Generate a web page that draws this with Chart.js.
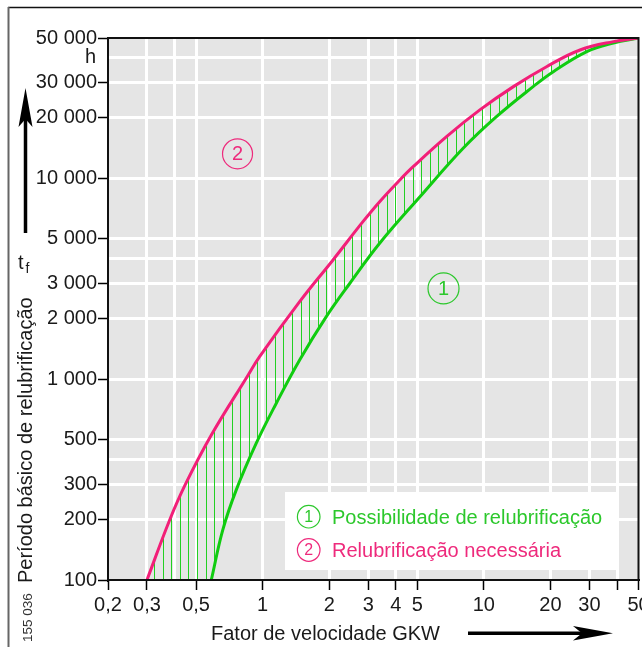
<!DOCTYPE html>
<html lang="pt">
<head>
<meta charset="utf-8">
<title>Período básico de relubrificação</title>
<script src="https://cdn.jsdelivr.net/npm/chart.js@4.4.1/dist/chart.umd.min.js"></script>
<style>
    html, body { margin: 0; padding: 0; background: #fff; }
    canvas { display: block; }
</style>
</head>
<body>
<canvas id="chart" width="642" height="647"></canvas>
<script>
// Curve 2 - relubrication required (magenta)
const magentaX = [0.3, 0.38, 0.448, 0.588, 0.844, 0.969, 1.47, 2.08, 2.84, 3.38, 4.17, 4.79, 6.78, 9.59, 13.6, 19.2, 27.2, 38.5, 50];
const magentaY = [100, 199, 300, 530, 1014, 1294, 2432, 3924, 6086, 7656, 9818, 11430, 16140, 21920, 28630, 35980, 43580, 47970, 50000];

// Curve 1 - relubrication possible (green)
const greenX = [0.586, 0.661, 0.76, 0.936, 1.153, 1.47, 1.94, 2.48, 3.38, 5.13, 8.06, 11.4, 16.7, 20.6, 29.2, 38.5, 50];
const greenY = [100, 178, 281, 480, 759, 1246, 2048, 3004, 4750, 8077, 14120, 20290, 28630, 33980, 42770, 47230, 50000];

// Axis ticks
const xTicks = [0.2, 0.3, 0.4, 0.5, 1, 2, 3, 4, 5, 10, 20, 30, 40, 50];
const xTickLabels = ['0,2', '0,3', '', '0,5', '1', '2', '3', '4', '5', '10', '20', '30', '', '50'];
const xNoMark = [0.4];
const yTicks = [100, 200, 300, 400, 500, 1000, 2000, 3000, 4000, 5000, 10000, 20000, 30000, 40000, 50000];
const yTickLabels = ['100', '200', '300', '', '500', '1 000', '2 000', '3 000', '', '5 000', '10 000', '20 000', '30 000', '', '50 000'];
const yNoMark = [400, 4000, 40000];

// Texts
const legendLabels = ['Possibilidade de relubrificação', 'Relubrificação necessária'];
const xTitle = 'Fator de velocidade GKW';
const yTitle = 'Período básico de relubrificação';
const yUnit = 'h';
const figureId = '155 036';

const FONT = '"Liberation Sans", Arial, sans-serif';
const MAGENTA = '#f21f78';
const GREEN = '#10cc10';
const HATCH = '#22d022';
const GREEN_TEXT = '#2cc82c';
const MAGENTA_TEXT = '#ee2a7c';

function circled(ctx, x, y, r, text, color, size) {
    ctx.beginPath();
    ctx.arc(x, y, r, 0, Math.PI * 2);
    ctx.strokeStyle = color;
    ctx.lineWidth = 1.2;
    ctx.stroke();
    ctx.fillStyle = color;
    ctx.font = size + 'px ' + FONT;
    ctx.textAlign = 'center';
    ctx.textBaseline = 'middle';
    ctx.fillText(text, x, y + 1);
}

const decor = {
    id: 'decor',
    beforeDraw(chart) {
        const { ctx, chartArea: a } = chart;
        ctx.save();
        ctx.fillStyle = '#e5e5e5';
        ctx.fillRect(a.left, a.top, a.right - a.left, a.bottom - a.top);
        ctx.restore();
    },
    beforeDatasetsDraw(chart) {
        // vertical hatching between the two curves
        const { ctx, chartArea: a } = chart;
        const upper = chart.getDatasetMeta(0).dataset;
        const lower = chart.getDatasetMeta(1).dataset;
        ctx.save();
        ctx.beginPath();
        ctx.rect(a.left, a.top, a.right - a.left, a.bottom - a.top);
        ctx.clip();
        ctx.beginPath();
        upper.pathSegment(ctx, upper.segments[0], { move: true });
        lower.pathSegment(ctx, lower.segments[0], { move: false, reverse: true });
        ctx.closePath();
        ctx.clip();
        ctx.strokeStyle = HATCH;
        ctx.lineWidth = 1;
        ctx.beginPath();
        for (let x = a.left + 46; x < a.right; x += 8.62) {
            const px = Math.round(x) + 0.5;
            ctx.moveTo(px, a.top);
            ctx.lineTo(px, a.bottom);
        }
        ctx.stroke();
        ctx.restore();
    },
    afterDatasetsDraw(chart) {
        const { ctx, chartArea: a, scales } = chart;
        ctx.save();
        // plot frame
        ctx.strokeStyle = '#111';
        ctx.lineWidth = 2;
        ctx.strokeRect(a.left, a.top, a.right - a.left, a.bottom - a.top);

        // region markers
        circled(ctx, scales.x.getPixelForValue(0.77), scales.y.getPixelForValue(13250), 15, '2', MAGENTA_TEXT, 20);
        circled(ctx, scales.x.getPixelForValue(6.57), scales.y.getPixelForValue(2830), 15.5, '1', GREEN_TEXT, 20);

        // legend box
        ctx.fillStyle = '#fff';
        ctx.fillRect(285, 492, 331, 78);
        circled(ctx, 308.7, 516.7, 11.3, '1', GREEN_TEXT, 16);
        circled(ctx, 308.7, 550, 11.3, '2', MAGENTA_TEXT, 16);
        ctx.font = '20px ' + FONT;
        ctx.textAlign = 'left';
        ctx.textBaseline = 'alphabetic';
        ctx.fillStyle = GREEN_TEXT;
        ctx.fillText(legendLabels[0], 332, 523.5);
        ctx.fillStyle = MAGENTA_TEXT;
        ctx.fillText(legendLabels[1], 332, 556.7);
        ctx.restore();
    },
    afterDraw(chart) {
        const ctx = chart.ctx;
        ctx.save();
        ctx.fillStyle = '#1a1a1a';
        ctx.strokeStyle = '#111';

        // outer figure frame
        ctx.lineWidth = 1.5;
        ctx.beginPath();
        ctx.moveTo(8, 7.5);
        ctx.lineTo(642, 7.5);
        ctx.stroke();
        ctx.strokeStyle = '#666';
        ctx.lineWidth = 2;
        ctx.beginPath();
        ctx.moveTo(8.5, 7);
        ctx.lineTo(8.5, 647);
        ctx.stroke();

        // unit
        ctx.font = '20px ' + FONT;
        ctx.textAlign = 'right';
        ctx.textBaseline = 'alphabetic';
        ctx.fillText(yUnit, 96, 63);

        // x title + arrow
        ctx.textAlign = 'left';
        ctx.fillText(xTitle, 211, 640);
        ctx.strokeStyle = '#000';
        ctx.fillStyle = '#000';
        ctx.lineWidth = 3.5;
        ctx.beginPath();
        ctx.moveTo(468, 633.3);
        ctx.lineTo(590, 633.3);
        ctx.stroke();
        ctx.beginPath();
        ctx.moveTo(613, 633.3);
        ctx.lineTo(573, 626);
        ctx.lineTo(582, 633.3);
        ctx.lineTo(573, 640.6);
        ctx.closePath();
        ctx.fill();

        // y arrow
        ctx.beginPath();
        ctx.moveTo(25.5, 233);
        ctx.lineTo(25.5, 110);
        ctx.stroke();
        ctx.beginPath();
        ctx.moveTo(25.5, 88);
        ctx.lineTo(18.5, 127);
        ctx.lineTo(25.5, 119);
        ctx.lineTo(32.5, 127);
        ctx.closePath();
        ctx.fill();

        // t_f
        ctx.fillStyle = '#1a1a1a';
        ctx.font = '20px ' + FONT;
        ctx.fillText('t', 18, 269);
        ctx.font = '14px ' + FONT;
        ctx.fillText('f', 25.5, 273);

        // y title (rotated)
        ctx.save();
        ctx.translate(31.5, 583);
        ctx.rotate(-Math.PI / 2);
        ctx.font = '20px ' + FONT;
        ctx.fillText(yTitle, 0, 0);
        ctx.restore();

        // figure number
        ctx.save();
        ctx.translate(31.5, 642);
        ctx.rotate(-Math.PI / 2);
        ctx.font = '13.5px ' + FONT;
        ctx.fillStyle = '#333';
        ctx.fillText(figureId, 0, 0);
        ctx.restore();

        ctx.restore();
    }
};

document.addEventListener('DOMContentLoaded', function () {
    const ctx = document.getElementById('chart').getContext('2d');

    const edge = (scale, v) => v === scale.min || v === scale.max;

    new Chart(ctx, {
        type: 'line',
        data: {
            datasets: [
                {
                    label: legendLabels[1],
                    data: magentaX.map((x, i) => ({ x: x, y: magentaY[i] })),
                    borderColor: MAGENTA,
                    borderWidth: 3,
                    pointRadius: 0,
                    tension: 0.4,
                    fill: false
                },
                {
                    label: legendLabels[0],
                    data: greenX.map((x, i) => ({ x: x, y: greenY[i] })),
                    borderColor: GREEN,
                    borderWidth: 3,
                    pointRadius: 0,
                    tension: 0.4,
                    fill: false
                }
            ]
        },
        options: {
            responsive: false,
            animation: false,
            devicePixelRatio: 1,
            layout: { padding: { left: 0, top: 38, right: 3.5, bottom: 0 } },
            plugins: {
                legend: { display: false },
                tooltip: { enabled: false },
                title: { display: false }
            },
            scales: {
                x: {
                    type: 'logarithmic',
                    position: 'bottom',
                    min: 0.2,
                    max: 50,
                    afterBuildTicks: s => { s.ticks = xTicks.map(v => ({ value: v })); },
                    afterFit: s => { s.height = 67; s.paddingLeft = 0; s.paddingRight = 0; },
                    ticks: {
                        autoSkip: false,
                        maxRotation: 0,
                        padding: 3,
                        color: '#1a1a1a',
                        font: { family: FONT, size: 20 },
                        callback: (v, i) => xTickLabels[i]
                    },
                    grid: {
                        color: c => edge(c.scale, c.tick.value) ? 'rgba(0,0,0,0)' : '#fff',
                        lineWidth: 3,
                        tickLength: 10,
                        tickWidth: 1.5,
                        tickColor: c => xNoMark.includes(c.tick.value) ? 'rgba(0,0,0,0)' : '#000'
                    },
                    border: { color: '#000', width: 2 }
                },
                y: {
                    type: 'logarithmic',
                    min: 100,
                    max: 50000,
                    afterBuildTicks: s => { s.ticks = yTicks.map(v => ({ value: v })); },
                    afterFit: s => { s.width = 108; s.paddingTop = 0; s.paddingBottom = 0; },
                    ticks: {
                        autoSkip: false,
                        padding: 1,
                        color: '#1a1a1a',
                        font: { family: FONT, size: 20 },
                        callback: (v, i) => yTickLabels[i]
                    },
                    grid: {
                        color: c => edge(c.scale, c.tick.value) ? 'rgba(0,0,0,0)' : '#fff',
                        lineWidth: 3,
                        tickLength: 10,
                        tickWidth: 1.5,
                        tickColor: c => yNoMark.includes(c.tick.value) ? 'rgba(0,0,0,0)' : '#000'
                    },
                    border: { color: '#000', width: 2 }
                }
            }
        },
        plugins: [decor]
    });
});
</script>
</body>
</html>
